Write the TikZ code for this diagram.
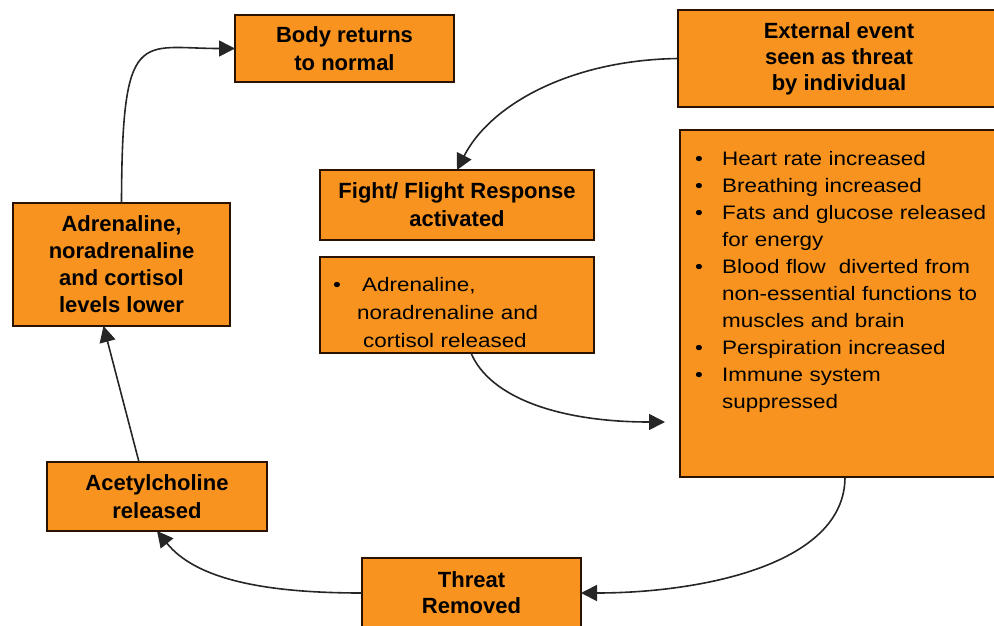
\documentclass[tikz,border=0pt]{standalone}
\usepackage{fontspec}
\setmainfont{Liberation Sans}
\newfontfamily\listfont[FakeStretch=1.15]{Liberation Sans}
\usetikzlibrary{arrows.meta}
\definecolor{boxfill}{HTML}{F7931E}
\definecolor{boxline}{HTML}{2A1200}
\newcommand{\bitem}[2][27pt]{\par\noindent\makebox[#1][l]{•}#2\par}
\newcommand{\bcont}[2][27pt]{\par\noindent\hspace*{#1}#2\par}
\begin{document}
\begin{tikzpicture}[x=1pt,y=-1pt,
  box/.style={draw=boxline, line width=1.8pt, fill=boxfill, rectangle, anchor=north west,
    inner sep=0pt, outer sep=0pt, align=center, font=\fontsize{22}{28}\selectfont\bfseries},
  listtext/.style={font=\listfont\fontsize{19.5}{27}\selectfont, align=left,
    inner sep=0pt, anchor=north west, text width=#1},
  conn/.style={line width=1.6pt, draw=black!85, -{Triangle[length=16pt,width=16pt]}}]
\useasboundingbox (0,0) rectangle (994,625);

% boxes
\node[box, minimum width=219pt, minimum height=67pt] (body) at (235,15) {Body returns\\to normal};
\node[box, minimum width=322pt, minimum height=97pt, font=\fontsize{22}{26}\selectfont\bfseries] (ext) at (678,10)
  {External event\\seen as threat\hspace*{50pt}\\by individual};
\node[box, minimum width=274pt, minimum height=70pt] (fight) at (320,170) {Fight/ Flight Response\\activated};
\node[box, minimum width=274pt, minimum height=96pt] (adr) at (320,257) {};
\node[listtext=240pt, font=\listfont\fontsize{19.5}{28}\selectfont] (adrt) at (333,263)
  {\bitem[29pt]{Adrenaline,}\bcont[24pt]{noradrenaline and}\bcont[30pt]{cortisol released}};
\node[box, minimum width=320pt, minimum height=347pt] (big) at (680,130) {};
\node[listtext=330pt] (bigt) at (695,138)
  {\bitem{Heart rate increased}
   \bitem{Breathing increased}
   \bitem{Fats and glucose released}\bcont{for energy}
   \bitem{Blood flow\ \ diverted from}\bcont{non-essential functions to}\bcont{muscles and brain}
   \bitem{Perspiration increased}
   \bitem{Immune system}\bcont{suppressed}};
\node[box, minimum width=217pt, minimum height=123pt, font=\fontsize{22}{27}\selectfont\bfseries] (left) at (13,203)
  {Adrenaline,\\noradrenaline\\and cortisol\\levels lower};
\node[box, minimum width=220pt, minimum height=69pt] (acet) at (47,462) {Acetylcholine\\released};
\node[box, minimum width=219pt, minimum height=70pt, font=\fontsize{22}{26}\selectfont\bfseries] (threat) at (362,558) {Threat\\Removed};

% connectors
\coordinate (a2end) at (665,422);
\draw[conn] (ext.west) .. controls (570,60) and (490,105) .. (fight.north);
\draw[conn] ([xshift=14pt]adr.south) .. controls (490,398) and (560,422) .. (a2end);
\draw[conn] ([xshift=5pt]big.south) .. controls (845,565) and (700,593) .. (threat.east);
\draw[conn] (threat.west) .. controls (260,593) and (195,578) .. (acet.south);
\draw[conn] ([xshift=-18pt]acet.north) -- ([xshift=-18pt]left.south);
\draw[conn] (left.north) .. controls (122,25) and (140,48.5) .. (body.west);
\end{tikzpicture}
\end{document}
